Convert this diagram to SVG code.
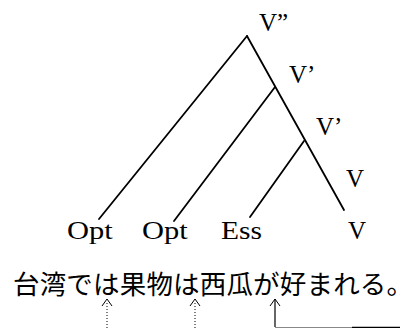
<svg xmlns="http://www.w3.org/2000/svg" width="415" height="328" viewBox="0 0 415 328">
<style>
.lbl{font-family:"Liberation Serif","Times New Roman",serif;font-size:25px;fill:#000}
.jp{font-family:"Noto Sans CJK JP","Noto Sans CJK SC",sans-serif;font-size:26.5px;fill:#000}
.br{stroke:#000;stroke-width:1.8;fill:none;stroke-linecap:round}
.dot{stroke:#000;stroke-width:1;stroke-dasharray:1 2;fill:none}
.sol{stroke:#000;stroke-width:1.2;fill:none}
.head{fill:none;stroke:#000;stroke-width:1}
</style>
<g id="connectors">
<path class="br" d="M247,36 L344,210"/>
<path class="br" d="M247,36 L99,219"/>
<path class="br" d="M275,87 L174,221"/>
<path class="br" d="M304,141 L250,217"/>
<path class="dot" d="M107,328 L107,303"/>
<path class="head" d="M102,306 L107,299 L112,306"/>
<path class="dot" d="M195,328 L195,303"/>
<path class="head" d="M190,306 L195,299 L200,306"/>
<path class="sol" d="M275,327 L275,299"/>
<path class="head" d="M270,306 L275,299 L280,306" stroke-width="1.2"/>
<path d="M275,327.5 L352,327.5" stroke="#888" stroke-width="1"/>
<path d="M352,327.5 L400,327.5" stroke="#000" stroke-width="1.5"/>
</g>
<g id="Vpp"><text class="lbl" x="259" y="31">V”</text></g>
<g id="Vp1"><text class="lbl" x="289" y="83">V’</text></g>
<g id="Vp2"><text class="lbl" x="316" y="135">V’</text></g>
<g id="V1"><text class="lbl" x="346" y="187">V</text></g>
<g id="V2"><text class="lbl" x="348" y="239">V</text></g>
<g id="Opt1"><text class="lbl" transform="translate(67,239) scale(1.22,1)">Opt</text></g>
<g id="Opt2"><text class="lbl" transform="translate(142,239) scale(1.22,1)">Opt</text></g>
<g id="Ess"><text class="lbl" transform="translate(221,239) scale(1.18,1)">Ess</text></g>
<g id="sentence"><text class="jp" x="13" y="294" textLength="400">台湾では果物は西瓜が好まれる。</text></g>
</svg>
